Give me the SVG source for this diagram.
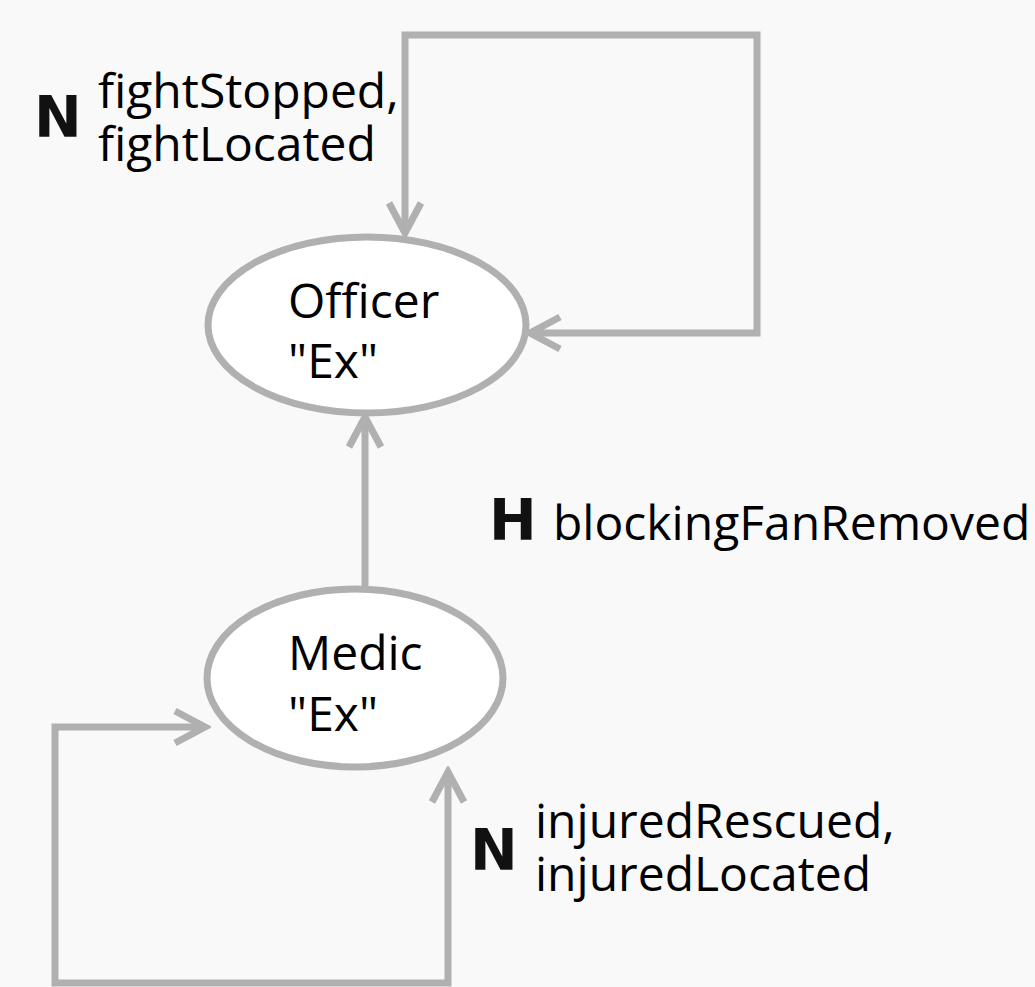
<svg xmlns="http://www.w3.org/2000/svg" width="1035" height="987" viewBox="0 0 1035 987">
<defs>
<style>
.t{font-family:"Open Sans","Noto Sans",sans-serif;font-size:48px;fill:#000}
.b{font-family:"DejaVu Sans",sans-serif;font-weight:bold;font-size:57px;fill:#111}
.n{fill:#fff;stroke:#b0b0b0;stroke-width:7}
.c{fill:none;stroke:#b0b0b0;stroke-width:7}
</style>
<marker id="a" viewBox="0 0 40 40" refX="34" refY="20" markerWidth="40" markerHeight="40" markerUnits="userSpaceOnUse" orient="auto-start-reverse">
<path d="M4,4 L34,20 L4,36" fill="none" stroke="#b0b0b0" stroke-width="7"/>
</marker>
</defs>
<rect width="1035" height="987" fill="#f9f9f9"/>
<g id="connectors">
<path class="c" d="M405,233 V35 H757 V333 H530" marker-start="url(#a)" marker-end="url(#a)"/>
<path class="c" d="M365,588 V417" marker-end="url(#a)"/>
<path class="c" d="M205,727 H55 V983 H448 V772" marker-start="url(#a)" marker-end="url(#a)"/>
</g>
<g id="officer">
<ellipse class="n" cx="367" cy="325" rx="159" ry="88"/>
<text class="t" x="288" y="318">Officer</text>
<text class="t" x="288" y="378">"Ex"</text>
</g>
<g id="medic">
<ellipse class="n" cx="355" cy="678" rx="148" ry="89"/>
<text class="t" x="288" y="670">Medic</text>
<text class="t" x="288" y="731">"Ex"</text>
</g>
<g id="label-fight">
<text class="b" x="34" y="137">N</text>
<text class="t" x="98" y="108">fightStopped,</text>
<text class="t" x="98" y="161">fightLocated</text>
</g>
<g id="label-blocking">
<text class="b" x="489" y="540">H</text>
<text class="t" x="553" y="540">blockingFanRemoved</text>
</g>
<g id="label-injured">
<text class="b" x="470" y="870">N</text>
<text class="t" x="535" y="838">injuredRescued,</text>
<text class="t" x="535" y="891">injuredLocated</text>
</g>
</svg>
